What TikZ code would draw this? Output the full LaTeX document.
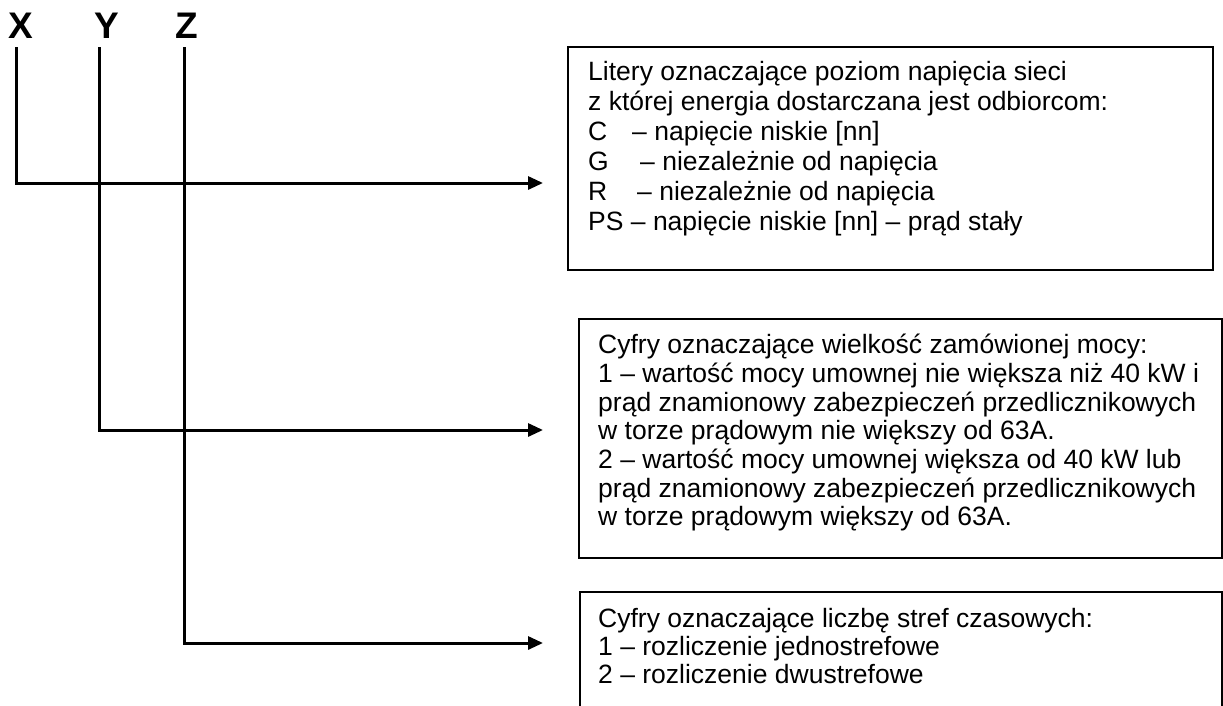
\documentclass[tikz,border=0pt]{standalone}
\usepackage{fontspec}
\setmainfont{Liberation Sans}
\usetikzlibrary{arrows.meta}
\begin{document}
\begin{tikzpicture}[x=1pt,y=-1pt,
  conn/.style={line width=3pt, -{Triangle[length=15pt,width=13pt]}},
  box/.style={draw, line width=2.5pt, rectangle, inner sep=0pt},
  txta/.style={anchor=north west, inner sep=0pt, align=left, font=\fontsize{26.5}{30}\selectfont},
  txtb/.style={anchor=north west, inner sep=0pt, align=left, font=\fontsize{26.5}{28.7}\selectfont},
  txtc/.style={anchor=north west, inner sep=0pt, align=left, font=\fontsize{26.5}{28}\selectfont},
  letter/.style={font=\fontsize{37}{40}\selectfont\bfseries, anchor=base, inner sep=0pt}]
\useasboundingbox (0,0) rectangle (1223,705);

% letters
\node[letter] (X) at (21,38) {X};
\node[letter] (Y) at (107,38) {Y};
\node[letter] (Z) at (187,38) {Z};

% boxes
\node[box, minimum width=645pt, minimum height=223pt] (b1) at (890.5,158.5) {};
\node[box, minimum width=643pt, minimum height=239pt] (b2) at (900.5,438.5) {};
\node[box, minimum width=642pt, minimum height=168pt] (b3) at (901,676) {};

% texts
\node[txta] (t1) at (588,61) {Litery oznaczające poziom napięcia sieci\\
z której energia dostarczana jest odbiorcom:\\
\makebox[44pt][l]{C}– napięcie niskie [nn]\\
\makebox[52pt][l]{G}– niezależnie od napięcia\\
\makebox[49pt][l]{R}– niezależnie od napięcia\\
PS – napięcie niskie [nn] – prąd stały};

\node[txtb] (t2) at (598,334) {Cyfry oznaczające wielkość zamówionej mocy:\\
1 – wartość mocy umownej nie większa niż 40 kW i\\
prąd znamionowy zabezpieczeń przedlicznikowych\\
w torze prądowym nie większy od 63A.\\
2 – wartość mocy umownej większa od 40 kW lub\\
prąd znamionowy zabezpieczeń przedlicznikowych\\
w torze prądowym większy od 63A.};

\node[txtc] (t3) at (598,608) {Cyfry oznaczające liczbę stref czasowych:\\
1 – rozliczenie jednostrefowe\\
2 – rozliczenie dwustrefowe};

% connector coordinates
\coordinate (xs) at (16,47);
\coordinate (ys) at (99,47);
\coordinate (zs) at (184,47);
\coordinate (xe) at (543,183);
\coordinate (ye) at (543,430);
\coordinate (ze) at (543,643);

\draw[conn] (xs) |- (xe);
\draw[conn] (ys) |- (ye);
\draw[conn] (zs) |- (ze);
\end{tikzpicture}
\end{document}
